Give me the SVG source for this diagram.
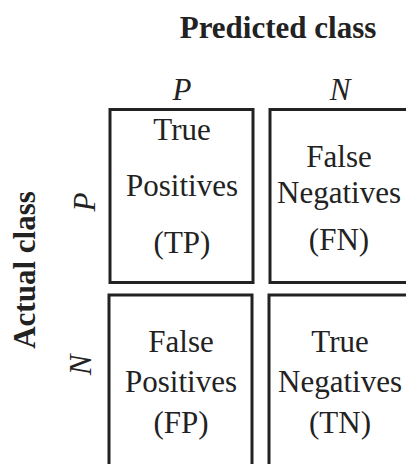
<svg xmlns="http://www.w3.org/2000/svg" width="406" height="464" viewBox="0 0 406 464">
<style>
.box{fill:#ffffff;stroke:#222222;stroke-width:3}
.t{font-family:"Liberation Serif","Times New Roman",serif;font-size:31px;fill:#222222;text-anchor:middle}
.h{font-weight:bold}
.i{font-style:italic}
</style>
<rect x="0" y="0" width="406" height="464" fill="#ffffff"/>
<g id="titles">
<text class="t h" x="278" y="38">Predicted class</text>
<text class="t h" transform="translate(35,270) rotate(-90)">Actual class</text>
</g>
<g id="col-labels">
<text class="t i" x="182" y="100">P</text>
<text class="t i" x="340" y="100">N</text>
</g>
<g id="row-labels">
<text class="t i" transform="translate(95,202) rotate(-90)">P</text>
<text class="t i" transform="translate(91,365) rotate(-90)">N</text>
</g>
<g id="tp">
<rect class="box" x="110" y="109.5" width="143" height="173"/>
<text class="t" x="182" y="140">True</text>
<text class="t" x="182" y="196">Positives</text>
<text class="t" x="182" y="253">(TP)</text>
</g>
<g id="fn">
<rect class="box" x="270" y="109.5" width="150" height="173"/>
<text class="t" x="339" y="167">False</text>
<text class="t" x="339" y="203">Negatives</text>
<text class="t" x="339" y="250">(FN)</text>
</g>
<g id="fp">
<rect class="box" x="109" y="295" width="143" height="200"/>
<text class="t" x="181" y="352">False</text>
<text class="t" x="181" y="392">Positives</text>
<text class="t" x="181" y="433">(FP)</text>
</g>
<g id="tn">
<rect class="box" x="269" y="295" width="150" height="200"/>
<text class="t" x="340" y="352">True</text>
<text class="t" x="340" y="392">Negatives</text>
<text class="t" x="340" y="433">(TN)</text>
</g>
<g id="connectors"></g>
</svg>
